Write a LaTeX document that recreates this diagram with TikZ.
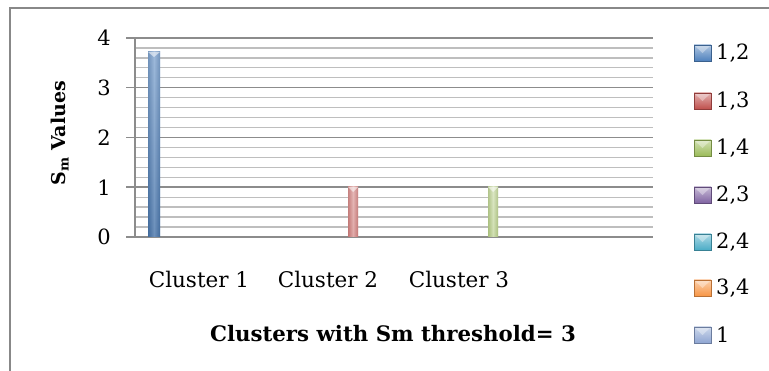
\documentclass[tikz,border=0pt]{standalone}
\usepackage{fontspec}
\setmainfont{DejaVu Serif}
\definecolor{framegray}{HTML}{888888}
\definecolor{majgrid}{HTML}{8C8C8C}
\definecolor{mingrid}{HTML}{BEBEBE}
\definecolor{sA}{HTML}{4F81BD}
\definecolor{sB}{HTML}{C0504D}
\definecolor{sC}{HTML}{9BBB59}
\definecolor{sD}{HTML}{8064A2}
\definecolor{sE}{HTML}{4BACC6}
\definecolor{sF}{HTML}{F79646}
\definecolor{sG}{HTML}{8FA6D2}
% one cylinder-like bar: x-left, x-right, y-top, top colour, bottom colour, edge colour
\newcommand\chartbar[6]{%
  \shade[top color=#4, bottom color=#5] (#1,#3) rectangle (#2,237);
  \shade[left color=#6, right color=#6, middle color=#4, fill opacity=0.45] (#1,#3) rectangle (#2,237);
  \fill[white, fill opacity=0.55] (#1,#3) -- (#2,#3) -- ({(#1+#2)/2},{#3+5}) -- cycle;
}
% legend entry: y-centre, colour, label
\newcommand\legitem[3]{%
  \shade[top color=#2!45!white, bottom color=#2] (694,{#1-8}) rectangle (711,{#1+8});
  \fill[white, fill opacity=0.35] (694,{#1-8}) -- (711,{#1-8}) -- (702.5,{#1}) -- cycle;
  \draw[#2!75!black, line width=0.6pt] (694,{#1-8}) rectangle (711,{#1+8});
  \node[anchor=west, inner sep=0pt] at (716,#1) {#3};
}
\begin{document}
\begin{tikzpicture}[x=1pt, y=-1pt, font=\fontsize{21}{25}\selectfont]
\useasboundingbox (0,0) rectangle (769,371);
% outer frame (top and left edges)
\draw[framegray, line width=1.5pt] (10,371) -- (10,8) -- (769,8);
% minor gridlines every 0.2
\foreach \i in {1,2,3,4,6,7,8,9,11,12,13,14,16,17,18,19}{
  \pgfmathsetmacro\yy{237-\i*9.95}
  \draw[mingrid, line width=1.3pt] (135,\yy) -- (653,\yy);
}
% major gridlines, ticks and value labels
\foreach \v in {0,...,4}{
  \pgfmathsetmacro\yy{237-\v*49.75}
  \draw[majgrid, line width=1.5pt] (126,\yy) -- (653,\yy);
  \node[anchor=east, inner sep=0pt] (ylab\v) at (111,\yy) {\v};
}
% value axis
\draw[majgrid, line width=1.5pt] (135,38) -- (135,237);
% bars
\chartbar{148}{160}{52}{sA!55!white}{sA!85!black}{sA!80!black}
\chartbar{348}{358}{187}{sB!40!white}{sB!55!white}{sB!85!black}
\chartbar{488}{498}{187}{sC!35!white}{sC!55!white}{sC!85!black}
% category labels
\node[font=\fontsize{21.5}{25}\selectfont] (c1) at (199,279) {Cluster 1};
\node[font=\fontsize{21.5}{25}\selectfont] (c2) at (328,279) {Cluster 2};
\node[font=\fontsize{21.5}{25}\selectfont] (c3) at (459,279) {Cluster 3};
% axis titles
\node[font=\fontsize{21.3}{25}\selectfont\bfseries] (xt) at (393,334) {Clusters with Sm threshold= 3};
\node[font=\fontsize{19}{23}\selectfont\bfseries, rotate=90] (yt) at (60,133) {S\textsubscript{m} Values};
% legend
\legitem{53}{sA}{1,2}
\legitem{101}{sB}{1,3}
\legitem{148}{sC}{1,4}
\legitem{195}{sD}{2,3}
\legitem{242}{sE}{2,4}
\legitem{288}{sF}{3,4}
\legitem{335}{sG}{1}
\end{tikzpicture}
\end{document}
